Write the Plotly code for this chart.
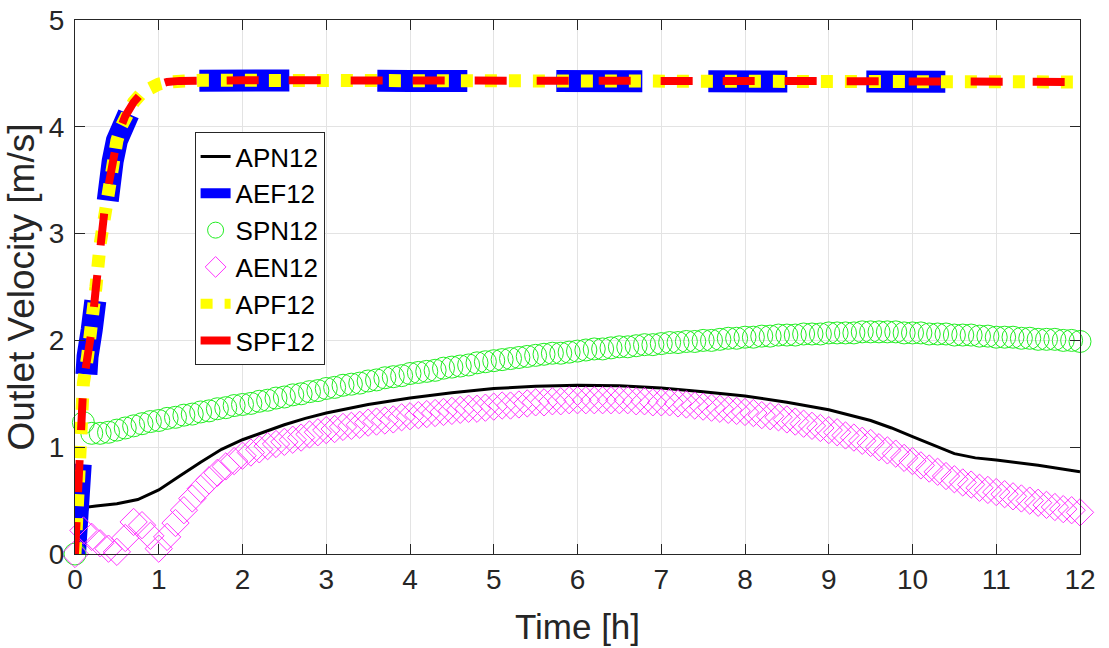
import plotly.graph_objects as go

# ---------------- data ----------------
# fast-rising series (AEF12, APF12, SPF12)
t_fast = [0, 0.02, 0.05, 0.08, 0.1, 0.15, 0.2, 0.25, 0.3, 0.35, 0.4, 0.45, 0.5, 0.55,
          0.6, 0.7, 0.8, 0.9, 1.0, 1.1, 1.25, 1.5, 2, 3, 4, 5, 6, 7, 8, 9, 10, 11, 12]
aef12 = [0, 0.3, 0.85, 1.4, 1.6, 1.85, 2.1, 2.5, 2.9, 3.2, 3.45, 3.68, 3.87, 4.0,
         4.1, 4.23, 4.32, 4.37, 4.4, 4.42, 4.43, 4.435, 4.435, 4.435, 4.43, 4.43,
         4.43, 4.43, 4.43, 4.425, 4.425, 4.42, 4.42]
apf12 = [0, 0.3, 0.85, 1.4, 1.6, 1.85, 2.1, 2.5, 2.9, 3.2, 3.45, 3.68, 3.87, 4.0,
         4.1, 4.23, 4.32, 4.37, 4.4, 4.42, 4.43, 4.435, 4.435, 4.435, 4.43, 4.43,
         4.43, 4.43, 4.43, 4.425, 4.425, 4.42, 4.42]
spf12 = [0, 0.3, 0.85, 1.4, 1.6, 1.85, 2.1, 2.5, 2.9, 3.2, 3.45, 3.68, 3.87, 4.0,
         4.1, 4.23, 4.32, 4.37, 4.4, 4.42, 4.43, 4.435, 4.435, 4.435, 4.43, 4.43,
         4.43, 4.43, 4.43, 4.425, 4.425, 4.42, 4.42]

# APN12 (solid black line)
t_apn = [0, 0.1, 0.15, 0.25, 0.5, 0.75, 1.0, 1.25, 1.5, 1.75, 2.0, 2.25, 2.5, 2.75,
         3.0, 3.25, 3.5, 3.75, 4.0, 4.5, 5.0, 5.5, 6.0, 6.5, 7.0, 7.5, 8.0, 8.5,
         9.0, 9.5, 9.75, 10.0, 10.25, 10.5, 10.75, 11.0, 11.5, 12.0]
apn12 = [0.0, 0.3, 0.44, 0.45, 0.47, 0.51, 0.6, 0.73, 0.86, 0.98, 1.07, 1.14, 1.21,
         1.27, 1.32, 1.36, 1.40, 1.43, 1.46, 1.51, 1.55, 1.57, 1.58, 1.575, 1.555,
         1.52, 1.48, 1.42, 1.35, 1.25, 1.18, 1.10, 1.02, 0.94, 0.90, 0.88, 0.83, 0.77]

# marker series sampled every 0.1 h
t_mk = [round(0.1 * i, 1) for i in range(121)]
spn12 = [0.00, 1.23, 1.13, 1.13, 1.14, 1.16, 1.18, 1.20, 1.22, 1.24,
         1.25, 1.27, 1.28, 1.30, 1.31, 1.33, 1.34, 1.36, 1.37, 1.39,
         1.40, 1.41, 1.43, 1.44, 1.46, 1.47, 1.49, 1.50, 1.52, 1.53,
         1.55, 1.56, 1.58, 1.59, 1.60, 1.62, 1.63, 1.65, 1.66, 1.67,
         1.69, 1.70, 1.71, 1.72, 1.74, 1.75, 1.76, 1.77, 1.79, 1.80,
         1.81, 1.82, 1.83, 1.84, 1.85, 1.86, 1.87, 1.88, 1.88, 1.89,
         1.90, 1.91, 1.92, 1.92, 1.93, 1.94, 1.94, 1.95, 1.96, 1.96,
         1.97, 1.98, 1.98, 1.99, 1.99, 2.00, 2.00, 2.01, 2.02, 2.02,
         2.03, 2.03, 2.04, 2.04, 2.05, 2.05, 2.05, 2.06, 2.06, 2.06,
         2.07, 2.07, 2.07, 2.07, 2.08, 2.08, 2.08, 2.08, 2.08, 2.07,
         2.07, 2.07, 2.06, 2.06, 2.06, 2.05, 2.05, 2.05, 2.04, 2.04,
         2.03, 2.03, 2.03, 2.02, 2.02, 2.01, 2.01, 2.01, 2.00, 2.00,
         1.99]
aen12 = [0.00, 0.22, 0.16, 0.10, 0.05, 0.02, 0.15, 0.30, 0.27, 0.17,
         0.05, 0.16, 0.29, 0.41, 0.52, 0.61, 0.69, 0.76, 0.82, 0.87,
         0.92, 0.95, 0.98, 1.01, 1.03, 1.05, 1.07, 1.09, 1.12, 1.14,
         1.16, 1.17, 1.19, 1.20, 1.21, 1.23, 1.24, 1.25, 1.26, 1.28,
         1.29, 1.30, 1.31, 1.32, 1.33, 1.34, 1.35, 1.36, 1.36, 1.37,
         1.38, 1.39, 1.39, 1.40, 1.41, 1.42, 1.42, 1.43, 1.43, 1.44,
         1.44, 1.44, 1.44, 1.44, 1.44, 1.44, 1.44, 1.43, 1.43, 1.42,
         1.42, 1.42, 1.41, 1.40, 1.39, 1.38, 1.37, 1.36, 1.35, 1.34,
         1.33, 1.32, 1.30, 1.29, 1.28, 1.26, 1.24, 1.22, 1.20, 1.18,
         1.16, 1.14, 1.11, 1.09, 1.06, 1.04, 1.00, 0.97, 0.94, 0.90,
         0.87, 0.83, 0.80, 0.77, 0.73, 0.70, 0.67, 0.65, 0.62, 0.60,
         0.58, 0.56, 0.54, 0.52, 0.50, 0.48, 0.46, 0.44, 0.42, 0.41,
         0.39]

x_ticks = [0, 1, 2, 3, 4, 5, 6, 7, 8, 9, 10, 11, 12]
y_ticks = [0, 1, 2, 3, 4, 5]

# ---------------- figure ----------------
FONT = "Liberation Sans, Arial, sans-serif"
AX = "#262626"

fig = go.Figure()
fig.add_trace(go.Scatter(x=t_apn, y=apn12, mode="lines", name="APN12",
                         line=dict(color="black", width=3)))
fig.add_trace(go.Scatter(x=t_fast, y=aef12, mode="lines", name="AEF12",
                         line=dict(color="#0000FF", width=22,
                                   dash="90px,90px,74px,101px,90px,85px,90px,88px,90px,89px,"
                                        "86px,66px,79px,79px,79px,300px")))
fig.add_trace(go.Scatter(x=t_mk, y=spn12, mode="markers", name="SPN12",
                         cliponaxis=False,
                         marker=dict(symbol="circle-open", size=22,
                                     color="#22EE22", line=dict(width=1, color="#22EE22"))))
fig.add_trace(go.Scatter(x=t_mk, y=aen12, mode="markers", name="AEN12",
                         cliponaxis=False,
                         marker=dict(symbol="diamond-open", size=21,
                                     color="#FF33FF", line=dict(width=1, color="#FF33FF"))))
fig.add_trace(go.Scatter(x=t_fast, y=apf12, mode="lines", name="APF12",
                         line=dict(color="#FFFF00", width=13, dash="12px,12px")))
fig.add_trace(go.Scatter(x=t_fast, y=spf12, mode="lines", name="SPF12",
                         line=dict(color="#FF0000", width=8, dash="32px,30px")))

axis_common = dict(showline=True, linecolor=AX, linewidth=1, mirror="ticks",
                   ticks="inside", ticklen=10, tickcolor=AX, tickwidth=1,
                   showgrid=True, gridcolor="#E3E3E3", gridwidth=1, zeroline=False,
                   automargin=False,
                   tickfont=dict(family=FONT, size=28, color=AX))

fig.update_xaxes(range=[0, 12], tickvals=x_ticks, ticktext=[str(v) for v in x_ticks],
                 title=dict(text="Time [h]", font=dict(family=FONT, size=35, color=AX),
                            standoff=20),
                 **axis_common)
fig.update_yaxes(range=[0, 5], tickvals=y_ticks, ticktext=[str(v) for v in y_ticks],
                 ticklabelstandoff=4,
                 title=dict(text="Outlet Velocity [m/s]",
                            font=dict(family=FONT, size=37, color=AX), standoff=2),
                 **axis_common)

fig.update_layout(
    width=1109, height=648, autosize=False,
    margin=dict(l=75, r=29, t=20, b=94, autoexpand=False),
    paper_bgcolor="white", plot_bgcolor="white",
    font=dict(family=FONT, color=AX),
    legend=dict(x=0.119, y=0.79, xanchor="left", yanchor="top",
                bgcolor="white", bordercolor=AX, borderwidth=1,
                font=dict(family=FONT, size=26, color="black"),
                tracegroupgap=0, itemwidth=30),
    showlegend=True,
)

fig.write_html("out.html")
